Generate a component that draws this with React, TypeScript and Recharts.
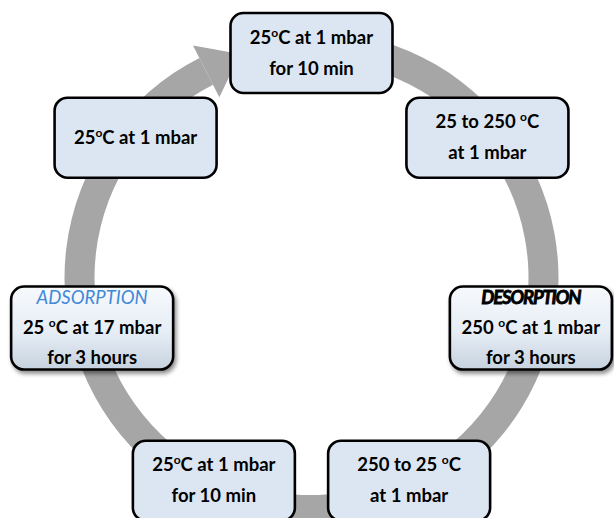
import React from 'react';
import { PieChart, Pie } from 'recharts';

// one entry per step of the cycle, clockwise from the top
const stepTitles = ['', '', 'DESORPTION', '', '', 'ADSORPTION', ''];
const stepLines = [
  ['25ºC at 1 mbar', 'for 10 min'],
  ['25 to 250 ºC', 'at 1 mbar'],
  ['250 ºC at 1 mbar', 'for 3 hours'],
  ['250 to 25 ºC', 'at 1 mbar'],
  ['25ºC at 1 mbar', 'for 10 min'],
  ['25 ºC at 17 mbar', 'for 3 hours'],
  ['25ºC at 1 mbar'],
];
const stepShares = [1, 1, 1, 1, 1, 1, 1];

const ringData = [{ name: 'cycle', value: 1 }];
const stepData = stepLines.map((lines, i) => ({
  name: `step-${i}`,
  value: stepShares[i],
  title: stepTitles[i],
  lines,
}));

const RAD = Math.PI / 180;
const FONT = 'Lato, "Open Sans", sans-serif';
const GREY = '#a6a6a6';

// draws "25ºC" with a raised small o
const degreeText = (line: string) => {
  const parts = line.split('º');
  const out: React.ReactNode[] = [<tspan key="p0">{parts[0]}</tspan>];
  for (let i = 1; i < parts.length; i++) {
    out.push(
      <tspan key={`o${i}`} fontSize={12} dy={-7}>o</tspan>,
      <tspan key={`p${i}`} dy={7}>{parts[i]}</tspan>
    );
  }
  return out;
};

const renderArrowHead = (props: any) => {
  const { cx, cy, endAngle, innerRadius, outerRadius } = props;
  const a = endAngle * RAD;
  const r = (innerRadius + outerRadius) / 2;
  const bx = cx + r * Math.cos(a);
  const by = cy - r * Math.sin(a);
  const rx = Math.cos(a);
  const ry = -Math.sin(a);
  const tx = Math.sin(a);
  const ty = Math.cos(a);
  const half = 29;
  const len = 38;
  const pts = [
    [bx + rx * half, by + ry * half],
    [bx + tx * len, by + ty * len],
    [bx - rx * half, by - ry * half],
  ]
    .map((p) => p.join(','))
    .join(' ');
  return <polygon points={pts} fill={GREY} />;
};

const renderStepBox = (props: any) => {
  const { cx, cy, midAngle, outerRadius, index, payload } = props;
  const x = cx + outerRadius * Math.cos(-midAngle * RAD);
  const y = cy + outerRadius * Math.sin(-midAngle * RAD);
  const title: string = payload.title ?? stepTitles[index];
  const lines: string[] = payload.lines ?? stepLines[index];
  const special = title !== '';
  const w = 162;
  const h = special ? 83 : 80;
  const all = special ? [title, ...lines] : lines;
  const n = all.length;
  const gap = n > 2 ? 30 : 31;
  const gid = `boxfill-${index}`;
  const sid = `boxshadow-${index}`;
  return (
    <g key={`box-${index}`}>
      {special && (
        <defs>
          <linearGradient id={gid} x1="0" y1="0" x2="0" y2="1">
            <stop offset="0%" stopColor="#f7f9fc" />
            <stop offset="55%" stopColor="#e6edf5" />
            <stop offset="100%" stopColor="#c6d2df" />
          </linearGradient>
          <filter id={sid} x="-10%" y="-10%" width="125%" height="130%">
            <feDropShadow dx="2" dy="3" stdDeviation="2" floodColor="#000" floodOpacity="0.45" />
          </filter>
        </defs>
      )}
      <rect
        x={x - w / 2}
        y={y - h / 2}
        width={w}
        height={h}
        rx={13}
        ry={13}
        fill={special ? `url(#${gid})` : '#dce6f2'}
        stroke="#000"
        strokeWidth={2.6}
        filter={special ? `url(#${sid})` : undefined}
      />
      {all.map((line, i) => {
        const isTitle = special && i === 0;
        const isDes = isTitle && title === 'DESORPTION';
        const isAds = isTitle && title === 'ADSORPTION';
        const base = y + 6 + (i - (n - 1) / 2) * gap;
        return (
          <text
            key={i}
            x={x}
            y={base}
            textAnchor="middle"
            fontFamily={FONT}
            fontSize={18.5}
            fontWeight={isAds ? 400 : 700}
            fontStyle={isTitle ? 'italic' : 'normal'}
            letterSpacing={isDes ? -1.2 : 0}
            fill={isAds ? '#3f88d8' : '#000'}
            stroke={isDes ? '#000' : 'none'}
            strokeWidth={isDes ? 0.8 : 0}
          >
            {degreeText(line)}
          </text>
        );
      })}
    </g>
  );
};

export default function App() {
  return (
    <div style={{ position: 'absolute', left: 0, top: 0, background: '#fff' }}>
      <PieChart width={614} height={518} margin={{ top: 0, right: 0, bottom: 0, left: 0 }}>
        <Pie
          data={ringData}
          dataKey="value"
          cx={311.5}
          cy={278}
          innerRadius={217}
          outerRadius={247}
          startAngle={95}
          endAngle={-243}
          fill={GREY}
          stroke="none"
          label={renderArrowHead}
          labelLine={false}
          isAnimationActive={false}
        />
        <Pie
          data={stepData}
          dataKey="value"
          cx={311.5}
          cy={278}
          innerRadius={0}
          outerRadius={225}
          startAngle={90 + 180 / 7}
          endAngle={90 + 180 / 7 - 360}
          fill="none"
          stroke="none"
          label={renderStepBox}
          labelLine={false}
          isAnimationActive={false}
        />
      </PieChart>
    </div>
  );
}
